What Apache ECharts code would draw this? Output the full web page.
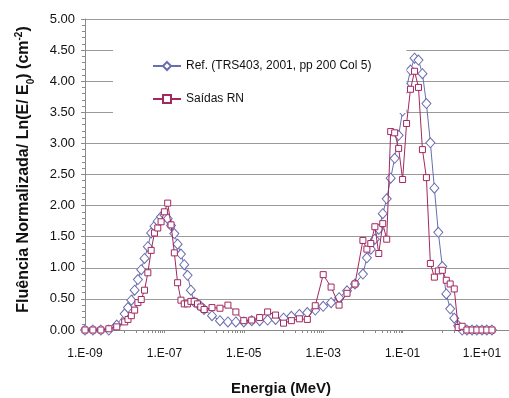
<!DOCTYPE html>
<html>
<head>
<meta charset="utf-8">
<script src="https://cdn.jsdelivr.net/npm/echarts@6/dist/echarts.min.js"></script>
<style>
  html, body { margin: 0; padding: 0; background: #fff; }
  #chart { width: 509px; height: 398px; }
</style>
</head>
<body>
<div id="chart"></div>
<script>
// Energy bins (MeV) shared by both spectra
const energy = [
  1.00e-9, 1.58e-9, 2.51e-9, 3.98e-9, 6.31e-9,
  1.00e-8, 1.21e-8, 1.47e-8, 1.78e-8, 2.15e-8, 2.61e-8, 3.16e-8, 3.83e-8, 4.64e-8, 5.62e-8, 6.81e-8, 8.25e-8,
  1.00e-7, 1.21e-7, 1.47e-7, 1.78e-7, 2.15e-7, 2.61e-7, 3.16e-7, 3.83e-7, 4.64e-7, 5.62e-7, 6.81e-7, 8.25e-7,
  1.00e-6,
  1.58e-6, 2.51e-6, 3.98e-6, 6.31e-6, 1.00e-5, 1.58e-5, 2.51e-5, 3.98e-5, 6.31e-5, 1.00e-4,
  1.58e-4, 2.51e-4, 3.98e-4, 6.31e-4, 1.00e-3, 1.58e-3, 2.51e-3, 3.98e-3, 6.31e-3,
  1.00e-2, 1.26e-2, 1.58e-2, 2.00e-2, 2.51e-2, 3.16e-2, 3.98e-2, 5.01e-2, 6.31e-2, 7.94e-2,
  0.100, 0.126, 0.158, 0.200, 0.251, 0.316, 0.398, 0.501, 0.631, 0.794,
  1.00, 1.26, 1.58, 2.00, 2.51, 3.16,
  4.17, 5.62, 7.41, 10.0, 13.2, 17.8
];

// Reference spectrum: TRS403, 2001, pp 200 Col 5
const refValues = [
  0, 0, 0, 0, 0.08,
  0.26, 0.36, 0.48, 0.64, 0.81, 0.97, 1.15, 1.34, 1.56, 1.67, 1.75, 1.82,
  1.85, 1.79, 1.68, 1.55, 1.38, 1.22, 1.05, 0.88, 0.64, 0.45, 0.42, 0.38,
  0.33,
  0.23, 0.15, 0.13, 0.13, 0.13, 0.15, 0.15, 0.16, 0.17, 0.19,
  0.22, 0.25, 0.28, 0.32, 0.38, 0.44, 0.52, 0.63, 0.74,
  0.90, 1.16, 1.30, 1.46, 1.62, 1.87, 2.11, 2.44, 2.76, 3.13,
  3.52, 3.89, 4.18, 4.37, 4.34, 4.12, 3.64, 3.01, 2.28, 1.57,
  1.02, 0.58, 0.34, 0.19, 0.07, 0.00,
  0, 0, 0, 0, 0, 0
];

// Neural-network unfolded spectrum (Saídas RN)
const rnValues = [
  0, 0, 0, 0.02, 0.05,
  0.13, 0.17, 0.23, 0.32, 0.44, 0.49, 0.64, 0.92, 1.28, 1.56, 1.64, 1.74,
  1.90, 2.04, 1.69, 1.24, 0.76, 0.48, 0.42, 0.42, 0.46, 0.46, 0.42, 0.37,
  0.33,
  0.36, 0.35, 0.40, 0.29, 0.15, 0.16, 0.20, 0.29, 0.24, 0.11,
  0.15, 0.18, 0.17, 0.39, 0.89, 0.69, 0.40, 0.59, 0.74,
  1.44, 1.30, 1.39, 1.66, 1.23, 1.71, 1.46, 3.19, 3.17, 2.92,
  2.42, 3.32, 3.87, 4.16, 3.90, 2.90, 2.45, 1.07, 0.85, 0.95,
  0.96, 0.80, 0.74, 0.66, 0.04, 0.06,
  0, 0, 0, 0, 0, 0
];

// Decade exponents that carry an energy label
const labelExponents = [-9, -7, -5, -3, -1, 1];
const seriesNames = ['Ref. (TRS403, 2001, pp 200 Col 5)', 'Saídas RN'];

const BLUE = '#6A6DB0';
const RED = '#A2285F';
const FONT = '"Liberation Sans", Arial, sans-serif';

// Visible log10 energy range (the plot runs off the right edge just short of 1E+02)
const X_MIN = -9;
const X_MAX = 1.68;

// Tick positions on the log10 energy axis: every decade, plus 2..9 multiples
// in the upper decade of each labelled two-decade span
const tickPositions = [];
for (let d = -9; d <= 1; d++) tickPositions.push(d);
labelExponents.forEach(function (e) {
  const base = e + 1;
  for (let m = 2; m <= 9; m++) {
    const p = base + Math.log10(m);
    if (p <= X_MAX) tickPositions.push(p);
  }
});

function expLabel(v) {
  const e = Math.round(v);
  const sign = e < 0 ? '-' : '+';
  const a = Math.abs(e);
  return '1.E' + sign + (a < 10 ? '0' : '') + a;
}

const toPoints = function (vals) {
  return energy.map(function (e, i) { return [Math.log10(e), vals[i]]; });
};

const chart = echarts.init(document.getElementById('chart'), null, { renderer: 'canvas' });

chart.setOption({
  animation: false,
  backgroundColor: '#fff',
  textStyle: { fontFamily: FONT },
  grid: { left: 85, top: 19, right: 0, height: 311 },
  legend: {
    orient: 'vertical',
    left: 113,
    top: 44,
    padding: [16, 35, 8, 39],
    itemGap: 21,
    itemWidth: 28,
    itemHeight: 10,
    backgroundColor: '#fff',
    textStyle: { fontSize: 12, color: '#111', fontFamily: FONT },
    data: seriesNames
  },
  xAxis: {
    type: 'value',
    min: X_MIN,
    max: X_MAX,
    interval: 1,
    splitLine: { show: false },
    axisLine: { lineStyle: { color: '#8a8a8a', width: 1 } },
    axisTick: {
      show: true, length: 3, inside: false,
      customValues: tickPositions,
      lineStyle: { color: '#8a8a8a' }
    },
    axisLabel: {
      customValues: labelExponents,
      formatter: expLabel,
      margin: 18,
      fontSize: 12,
      color: '#111',
      fontFamily: FONT
    }
  },
  yAxis: {
    type: 'value',
    min: 0,
    max: 5,
    interval: 0.5,
    name: 'Fluência Normalizada/ Ln(E/ E{sub|0}) (cm{sup|-2})',
    nameLocation: 'middle',
    nameGap: 52,
    nameTextStyle: {
      fontSize: 16,
      fontWeight: 'bold',
      color: '#111',
      fontFamily: FONT,
      padding: [0, 0, 0, 10],
      rich: {
        sub: { fontSize: 10, fontWeight: 'bold', verticalAlign: 'bottom', lineHeight: 19, padding: [0, 0, -3, 0], fontFamily: FONT },
        sup: { fontSize: 10, fontWeight: 'bold', verticalAlign: 'top', lineHeight: 19, fontFamily: FONT }
      }
    },
    axisLine: { show: true, onZero: false, lineStyle: { color: '#8a8a8a', width: 1 } },
    axisTick: { show: true, length: 4, lineStyle: { color: '#8a8a8a' } },
    minorTick: { show: true, splitNumber: 5, length: 3, lineStyle: { color: '#8a8a8a' } },
    splitLine: { show: true, lineStyle: { color: '#9a9a9a', width: 1 } },
    axisLabel: {
      formatter: function (v) { return v.toFixed(2); },
      margin: 10,
      fontSize: 13,
      color: '#111',
      fontFamily: FONT
    }
  },
  graphic: [{
    type: 'text',
    x: 281,
    y: 389,
    style: {
      text: 'Energia (MeV)',
      align: 'center',
      verticalAlign: 'middle',
      font: 'bold 15px ' + FONT,
      fill: '#111'
    }
  }],
  series: [
    {
      name: seriesNames[0],
      type: 'line',
      data: toPoints(refValues),
      symbol: 'diamond',
      symbolSize: [9, 10],
      showAllSymbol: true,
      clip: false,
      lineStyle: { color: BLUE, width: 1 },
      itemStyle: { color: '#fff', borderColor: BLUE, borderWidth: 1 },
      z: 2
    },
    {
      name: seriesNames[1],
      type: 'line',
      data: toPoints(rnValues),
      symbol: 'rect',
      symbolSize: 6,
      showAllSymbol: true,
      clip: false,
      lineStyle: { color: RED, width: 1 },
      itemStyle: { color: '#fff', borderColor: RED, borderWidth: 1 },
      z: 3
    }
  ]
});
</script>
</body>
</html>
